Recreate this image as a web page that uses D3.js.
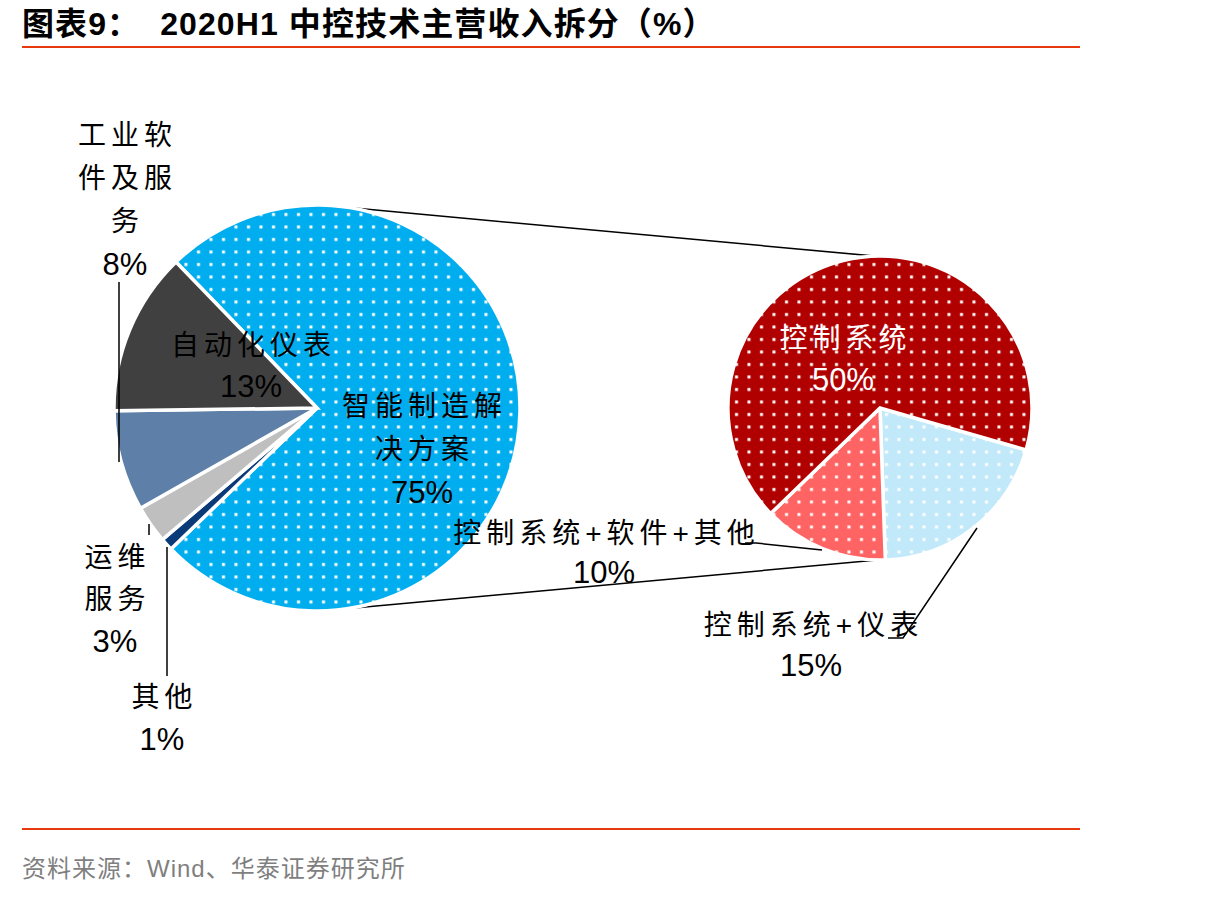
<!DOCTYPE html>
<html>
<head>
<meta charset="utf-8">
<script src="https://cdn.jsdelivr.net/npm/d3@7"></script>
<style>
  body { margin: 0; background: #fff; }
  svg text { font-family: "Liberation Sans", Arial, "Noto Sans CJK SC", sans-serif; }
</style>
</head>
<body>
<svg id="chart" width="1210" height="898"></svg>
<script>
// 2020H1 中控技术主营收入拆分 (pie of pie)

// main pie, clockwise from the upper-left edge of the big slice
const mainCats = ["智能制造解决方案", "其他", "运维服务", "工业软件及服务", "自动化仪表"];
const mainVals = [75, 1, 3, 8, 13];
const mainColors = ["#00AEEF", "#0B3A78", "#BFBFBF", "#5E80A8", "#404040"];
const mainDotted = [true, false, false, false, false];

// secondary pie: breakdown of 智能制造解决方案
const subCats = ["控制系统+仪表", "控制系统+软件+其他", "控制系统"];
const subVals = [15, 10, 50];
const subColors = ["#C2E9F9", "#FF6464", "#B00000"];

const titleText = "图表9：  2020H1 中控技术主营收入拆分（%）";
const sourceText = "资料来源：Wind、华泰证券研究所";

const svg = d3.select("#chart");
const deg = Math.PI / 180;

// dotted fills
const defs = svg.append("defs");
function dotPattern(color) {
    const id = "dots" + color.replace("#", "");
    const p = defs.append("pattern")
        .attr("id", id)
        .attr("patternUnits", "userSpaceOnUse")
        .attr("width", 12.5).attr("height", 12.5);
    p.append("rect").attr("width", 12.5).attr("height", 12.5).attr("fill", color);
    p.append("rect").attr("x", 5).attr("y", 5).attr("width", 3).attr("height", 3).attr("fill", "#fff");
    return `url(#${id})`;
}

// title + rules
svg.append("text")
    .attr("x", 22).attr("y", 35)
    .attr("font-size", 32).attr("font-weight", "bold")
    .attr("letter-spacing", 1.1)
    .attr("fill", "#000")
    .style("white-space", "pre")
    .text(titleText);

svg.append("line")
    .attr("x1", 22).attr("x2", 1080).attr("y1", 47).attr("y2", 47)
    .attr("stroke", "#E8380D").attr("stroke-width", 2);
svg.append("line")
    .attr("x1", 22).attr("x2", 1080).attr("y1", 829).attr("y2", 829)
    .attr("stroke", "#E8380D").attr("stroke-width", 2);

svg.append("text")
    .attr("x", 22).attr("y", 877)
    .attr("font-size", 24).attr("fill", "#7F7F7F")
    .attr("letter-spacing", 1)
    .text(sourceText);

// pie geometry
const main = { cx: 317, cy: 408, r: 203, start: -44 };
const sub = { cx: 880, cy: 408, r: 152, start: 106 };

function pt(p, angle) {
    return [p.cx + p.r * Math.sin(angle * deg), p.cy - p.r * Math.cos(angle * deg)];
}

// connector lines between the pies
const connectors = [[pt(main, 9), pt(sub, -2)], [pt(main, 171), pt(sub, 181)]];
svg.append("g").selectAll("line")
    .data(connectors)
    .enter().append("line")
    .attr("x1", d => d[0][0]).attr("y1", d => d[0][1])
    .attr("x2", d => d[1][0]).attr("y2", d => d[1][1])
    .attr("stroke", "#000").attr("stroke-width", 1.5);

function drawPie(p, vals, fills) {
    const pie = d3.pie().sort(null).value(d => d)
        .startAngle(p.start * deg).endAngle(p.start * deg + 2 * Math.PI);
    const arc = d3.arc().innerRadius(0).outerRadius(p.r);
    svg.append("g")
        .attr("transform", `translate(${p.cx},${p.cy})`)
        .selectAll("path")
        .data(pie(vals))
        .enter().append("path")
        .attr("d", arc)
        .attr("fill", (d, i) => fills[i])
        .attr("stroke", "#fff")
        .attr("stroke-width", 3.5)
        .attr("stroke-linejoin", "miter");
}

drawPie(main, mainVals, mainColors.map((c, i) => mainDotted[i] ? dotPattern(c) : c));
drawPie(sub, subVals, subColors.map(c => dotPattern(c)));

// label layout: which pie/value, how the name wraps, where it sits
const labels = [
    { cat: mainCats[0], val: mainVals[0], wrap: [5, 3], x: 422, y: 406, pitch: 43, color: "#000" },
    { cat: mainCats[1], val: mainVals[1], wrap: [2], x: 162, y: 697, pitch: 42, color: "#000" },
    { cat: mainCats[2], val: mainVals[2], wrap: [2, 2], x: 115, y: 557, pitch: 42, color: "#000" },
    { cat: mainCats[3], val: mainVals[3], wrap: [3, 3, 1], x: 125, y: 135, pitch: 43, color: "#000" },
    { cat: mainCats[4], val: mainVals[4], wrap: [5], x: 251, y: 345, pitch: 41, color: "#000" },
    { cat: subCats[0], val: subVals[0], wrap: [7], x: 811, y: 625, pitch: 40, color: "#000" },
    { cat: subCats[1], val: subVals[1], wrap: [10], x: 604, y: 533, pitch: 39, color: "#000" },
    { cat: subCats[2], val: subVals[2], wrap: [4], x: 843, y: 338, pitch: 41, color: "#fff" }
];

const leaders = [
    [[119, 282], [119, 462]],
    [[149, 524], [149, 535]],
    [[167, 547], [167, 676]],
    [[745, 543], [756, 543], [822, 550]],
    [[888, 638], [903, 638], [977, 528]]
];

svg.append("g").selectAll("path")
    .data(leaders)
    .enter().append("path")
    .attr("d", d => d3.line()(d))
    .attr("fill", "none")
    .attr("stroke", "#000")
    .attr("stroke-width", 1.5);

const spacing = 5;
labels.forEach(l => {
    const g = svg.append("g").attr("fill", l.color);
    let pos = 0;
    l.wrap.forEach((n, i) => {
        g.append("text")
            .attr("x", l.x + spacing / 2)
            .attr("y", l.y + i * l.pitch)
            .attr("text-anchor", "middle")
            .attr("dominant-baseline", "central")
            .attr("font-size", 28)
            .attr("letter-spacing", spacing)
            .text(l.cat.slice(pos, pos + n));
        pos += n;
    });
    g.append("text")
        .attr("x", l.x)
        .attr("y", l.y + l.wrap.length * l.pitch)
        .attr("text-anchor", "middle")
        .attr("dominant-baseline", "central")
        .attr("font-size", 31)
        .text(l.val + "%");
});
</script>
</body>
</html>
